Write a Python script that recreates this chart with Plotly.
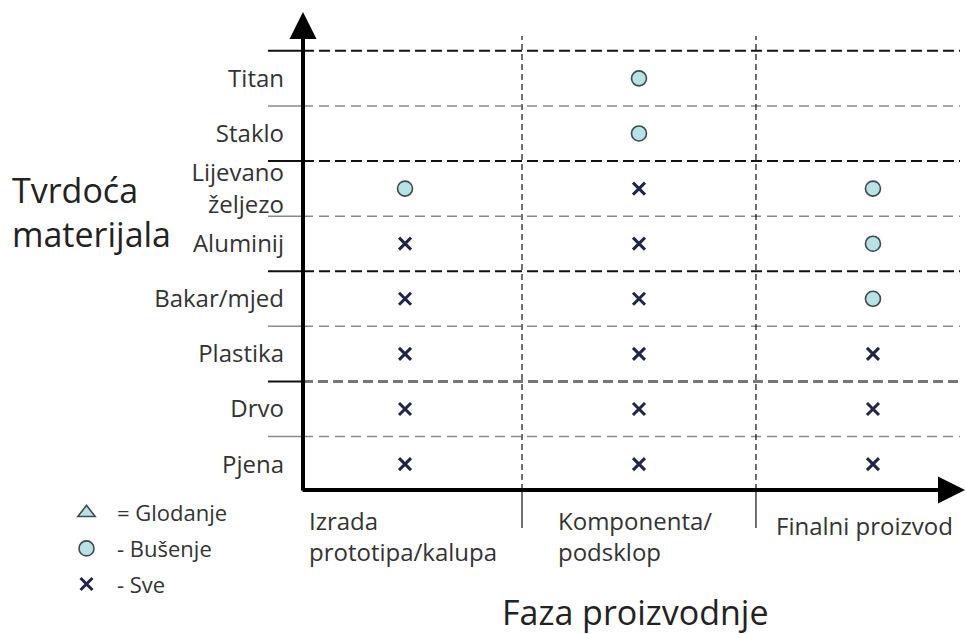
import plotly.graph_objects as go

# ---- data ----
phases = ["Izrada<br>prototipa/kalupa", "Komponenta/<br>podsklop", "Finalni proizvod"]
materials = ["Pjena", "Drvo", "Plastika", "Bakar/mjed", "Aluminij",
             "Lijevano<br>željezo", "Staklo", "Titan"]  # bottom -> top

# process per material for each phase: "B" = Bušenje, "S" = Sve, "" = none
proc_titan    = ["", "B", ""]
proc_staklo   = ["", "B", ""]
proc_lijevano = ["B", "S", "B"]
proc_aluminij = ["S", "S", "B"]
proc_bakar    = ["S", "S", "B"]
proc_plastika = ["S", "S", "S"]
proc_drvo     = ["S", "S", "S"]
proc_pjena    = ["S", "S", "S"]

legend_names = ["= Glodanje", "- Bušenje", "- Sve"]
y_title = "Tvrdoća<br>materijala"
x_title = "Faza proizvodnje"

rows = [proc_pjena, proc_drvo, proc_plastika, proc_bakar,
        proc_aluminij, proc_lijevano, proc_staklo, proc_titan]

bx, by, sx, sy = [], [], [], []
for mat, row in zip(materials, rows):
    for ph, code in zip(phases, row):
        if code == "B":
            bx.append(ph); by.append(mat)
        elif code == "S":
            sx.append(ph); sy.append(mat)

FONT = "Open Sans, DejaVu Sans, sans-serif"
TXT = "#333333"
label_xshift = [-2, -4, -8]

fig = go.Figure()
# Glodanje has no occurrences in the matrix; legend entry only
fig.add_trace(go.Scatter(x=[None], y=[None], mode="markers", name=legend_names[0],
                         legendgroup="g",
                         marker=dict(symbol="triangle-up", size=15, color="#b8e2e5",
                                     line=dict(color="#3d4b4b", width=1.6))))
fig.add_trace(go.Scatter(x=bx, y=by, mode="markers", name=legend_names[1],
                         legendgroup="b",
                         marker=dict(symbol="circle", size=15, color="#b8e2e5",
                                     line=dict(color="#3d4b4b", width=1.6))))
fig.add_trace(go.Scatter(x=sx, y=sy, mode="markers", name=legend_names[2],
                         legendgroup="s",
                         marker=dict(symbol="x-thin", size=12, color="#1f2548",
                                     line=dict(color="#1f2548", width=3))))

shapes = []
n = len(materials)
dark = {7, 5, 3}
for k in range(n):
    yv = k + 0.5
    if k in dark:
        col, w, dash = "#111111", 2, "11px,5px"
        lcol, lw = "#111111", 2
    elif k == 1:
        col, w, dash = "#777777", 3, "10px,5px"
        lcol, lw = "#111111", 2
    else:
        col, w, dash = "#8a8a8a", 1.5, "10px,6px"
        lcol, lw = "#8a8a8a", 1.5
    shapes.append(dict(type="line", xref="x domain", yref="y", x0=0, x1=1, y0=yv, y1=yv,
                       line=dict(color=col, width=w, dash=dash), layer="below"))
    shapes.append(dict(type="line", xref="x domain", yref="y", x0=-35/657, x1=0, y0=yv, y1=yv,
                       line=dict(color=lcol, width=lw), layer="below"))
for i in range(len(phases) - 1):
    xv = i + 0.5
    shapes.append(dict(type="line", xref="x", yref="y domain", x0=xv, x1=xv, y0=0, y1=0.956,
                       line=dict(color="#111111", width=1.2, dash="6px,4px"), layer="below"))
    shapes.append(dict(type="line", xref="x", yref="y domain", x0=xv, x1=xv, y0=0, y1=-0.08,
                       line=dict(color="#111111", width=1.2), layer="below"))

annotations = []
annotations.append(dict(xref="paper", yref="paper", x=0, y=(490 - 12) / 475, ax=0, ay=480,
                        axref="pixel", ayref="pixel", text="", showarrow=True, arrowhead=2,
                        arrowsize=1.35, arrowwidth=4, arrowcolor="#000000", standoff=0))
annotations.append(dict(xref="paper", yref="paper", x=(965 - 303) / 657, y=0, ax=-664, ay=0,
                        axref="pixel", ayref="pixel", text="", showarrow=True, arrowhead=2,
                        arrowsize=1.35, arrowwidth=4, arrowcolor="#000000", standoff=0))
for i, ph in enumerate(phases):
    annotations.append(dict(xref="x", yref="paper", x=ph, y=-12 / 475, xanchor="center",
                            yanchor="top", align="left", text=ph, showarrow=False,
                            xshift=label_xshift[i],
                            yshift=-5 if "<br>" not in ph else 0,
                            font=dict(family=FONT, size=24, color=TXT)))
annotations.append(dict(xref="paper", yref="paper", x=(10 - 303) / 657, y=(490 - 212) / 475,
                        xanchor="left", yanchor="middle", align="left", text=y_title,
                        showarrow=False, font=dict(family=FONT, size=34, color="#222222")))
annotations.append(dict(xref="paper", yref="paper", x=(635 - 303) / 657, y=(490 - 612) / 475,
                        xanchor="center", yanchor="middle", text=x_title,
                        showarrow=False, font=dict(family=FONT, size=34, color="#222222")))

fig.update_layout(
    width=966, height=634,
    margin=dict(l=303, r=6, t=15, b=144),
    paper_bgcolor="white", plot_bgcolor="white",
    shapes=shapes, annotations=annotations,
    showlegend=True,
    legend=dict(x=(56 - 303) / 657, y=-2 / 475, xanchor="left", yanchor="top",
                bgcolor="rgba(0,0,0,0)", font=dict(family=FONT, size=22, color=TXT),
                itemsizing="trace", tracegroupgap=4, itemwidth=51),
    xaxis=dict(type="category", categoryorder="array", categoryarray=phases,
               range=[-0.436, 2.372], showgrid=False, zeroline=False, showline=False,
               showticklabels=False, ticks=""),
    yaxis=dict(type="category", categoryorder="array", categoryarray=materials,
               range=[-0.47, 8.15], showgrid=False, zeroline=False, showline=False,
               ticks="", ticklabelstandoff=18,
               tickfont=dict(family=FONT, size=24, color=TXT)),
)

fig.write_html("out.html", config={"displayModeBar": False},
               post_script="document.body.style.margin='0';")
